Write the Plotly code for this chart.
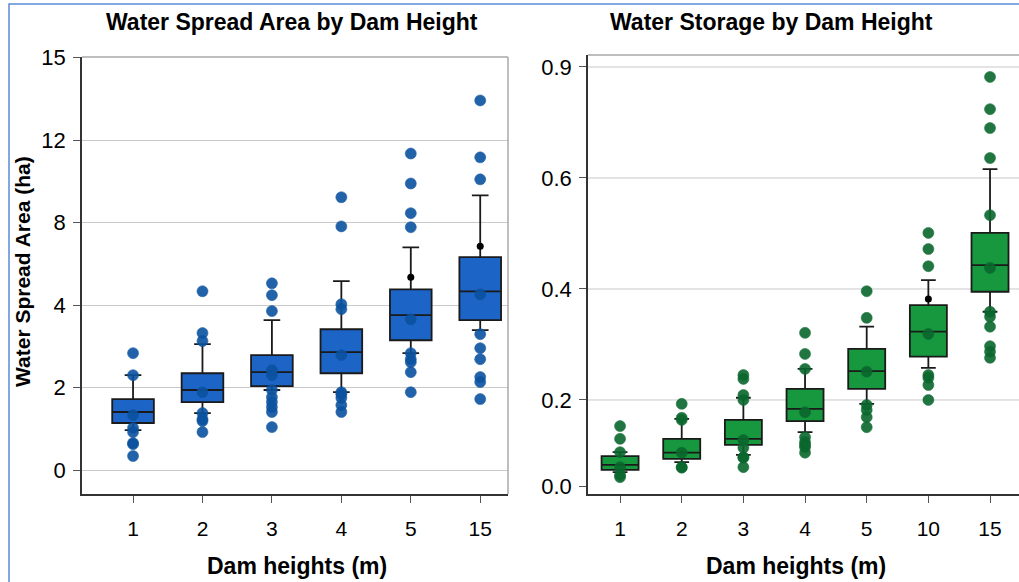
import plotly.graph_objects as go

# ---------------- Water spread area (left panel) ----------------
# Values are on the panel's positional axis (ticks every 3 units, labelled 0,2,4,8,12,15)
area_cats = ["1", "2", "3", "4", "5", "15"]
area_q1 = [1.71, 2.47, 3.05, 3.52, 4.72, 5.45]
area_median = [2.11, 2.91, 3.56, 4.29, 5.63, 6.50]
area_q3 = [2.58, 3.52, 4.18, 5.12, 6.57, 7.74]
area_lower = [1.45, 2.07, 2.91, 2.83, 4.25, 5.09]
area_upper = [3.45, 4.58, 5.45, 6.87, 8.10, 9.99]
area_mean = [None, None, None, None, 7.01, 8.14]
area_points = {
    "1": [4.25, 3.45, 2.00, 1.53, 1.38, 0.98, 0.94, 0.51],
    "2": [6.50, 4.98, 4.69, 2.83, 2.07, 1.85, 1.78, 1.38],
    "3": [6.79, 6.36, 5.78, 3.63, 3.45, 2.91, 2.65, 2.47, 2.29, 2.11, 1.56],
    "4": [9.92, 8.86, 6.03, 5.85, 4.18, 2.83, 2.76, 2.62, 2.36, 2.11],
    "5": [11.51, 10.42, 9.34, 8.83, 5.48, 4.25, 4.03, 3.92, 3.56, 2.83],
    "15": [13.44, 11.37, 10.57, 6.39, 4.94, 4.43, 4.03, 3.38, 3.20, 2.58],
}
area_tickvals = [0, 3, 6, 9, 12, 15]
area_ticktext = ["0", "2", "4", "8", "12", "15"]

# ---------------- Water storage (right panel) ----------------
storage_cats = ["1", "2", "3", "4", "5", "10", "15"]
storage_q1 = [0.074, 0.094, 0.119, 0.162, 0.220, 0.278, 0.395]
storage_median = [0.083, 0.105, 0.130, 0.184, 0.252, 0.323, 0.443]
storage_q3 = [0.099, 0.130, 0.164, 0.220, 0.292, 0.371, 0.501]
storage_lower = [0.070, 0.088, 0.101, 0.142, 0.193, 0.258, 0.359]
storage_upper = [0.106, 0.166, 0.204, 0.256, 0.332, 0.416, 0.616]
storage_mean = [None, None, None, None, None, 0.382, None]
storage_points = {
    "1": [0.153, 0.130, 0.106, 0.079, 0.065, 0.061],
    "2": [0.193, 0.168, 0.164, 0.105, 0.079, 0.078],
    "3": [0.245, 0.238, 0.209, 0.200, 0.128, 0.114, 0.097, 0.096, 0.079],
    "4": [0.321, 0.283, 0.256, 0.178, 0.133, 0.124, 0.119, 0.115, 0.105],
    "5": [0.396, 0.348, 0.251, 0.191, 0.182, 0.169, 0.151],
    "10": [0.501, 0.472, 0.441, 0.319, 0.245, 0.240, 0.227, 0.200],
    "15": [0.782, 0.724, 0.690, 0.636, 0.533, 0.438, 0.359, 0.350,
           0.332, 0.297, 0.287, 0.276],
}
storage_tickvals = [0.045, 0.2, 0.4, 0.6, 0.8]
storage_ticktext = ["0.0", "0.2", "0.4", "0.6", "0.9"]

W, H = 1019, 582
FONT = "Liberation Sans, Arial, sans-serif"
BLUE_FILL, BLUE_PT = "#1c65c6", "#0b52a0"
GREEN_FILL, GREEN_PT = "#17983f", "#0a672d"
EDGE = "#1a1a1a"
GRID = "#c9c9c9"


def px_x(p):
    return p / W


def px_y(p):
    return 1 - p / H


fig = go.Figure()


def add_panel(cats, q1, med, q3, lo, hi, mean, points, fill, ptcol, xa, ya):
    fig.add_trace(go.Box(
        x=cats, q1=q1, median=med, q3=q3, lowerfence=lo, upperfence=hi,
        fillcolor=fill, line=dict(color=EDGE, width=1.8), width=0.6,
        whiskerwidth=0.4, boxpoints=False, showlegend=False,
        xaxis=xa, yaxis=ya,
    ))
    xs, ys = [], []
    for c in cats:
        xs += [c] * len(points[c])
        ys += points[c]
    fig.add_trace(go.Scatter(
        x=xs, y=ys, mode="markers", showlegend=False, xaxis=xa, yaxis=ya,
        marker=dict(color=ptcol, size=11, opacity=0.9,
                    line=dict(width=0.6, color=ptcol)),
    ))
    mx = [c for c, m in zip(cats, mean) if m is not None]
    my = [m for m in mean if m is not None]
    fig.add_trace(go.Scatter(
        x=mx, y=my, mode="markers", showlegend=False, xaxis=xa, yaxis=ya,
        marker=dict(color="black", size=7),
    ))


add_panel(area_cats, area_q1, area_median, area_q3, area_lower, area_upper,
          area_mean, area_points, BLUE_FILL, BLUE_PT, "x", "y")
add_panel(storage_cats, storage_q1, storage_median, storage_q3, storage_lower,
          storage_upper, storage_mean, storage_points, GREEN_FILL, GREEN_PT,
          "x2", "y2")

common_x = dict(
    type="category", showline=True, linecolor="#333333", linewidth=1.5,
    ticks="outside", ticklen=7, tickcolor="#555555", tickwidth=1,
    showgrid=False, zeroline=False, ticklabelstandoff=8, automargin=False,
    tickfont=dict(family=FONT, size=21, color="black"),
)
common_y = dict(
    showline=True, linecolor="#333333", linewidth=1.5,
    ticks="outside", ticklen=7, tickcolor="#555555", tickwidth=1,
    zeroline=False, ticklabelstandoff=3, automargin=False,
    tickfont=dict(family=FONT, size=22, color="black"),
)

fig.update_layout(
    width=W, height=H,
    margin=dict(l=0, r=0, t=0, b=0),
    paper_bgcolor="white", plot_bgcolor="white",
    xaxis=dict(common_x, domain=[px_x(82), px_x(508)], anchor="y",
               categoryorder="array", categoryarray=area_cats,
               range=[-0.735, 5.40]),
    yaxis=dict(common_y, domain=[px_y(494), px_y(57)], anchor="x",
               range=[-0.872, 15.02], tickvals=area_tickvals,
               ticktext=area_ticktext, showgrid=True, gridcolor=GRID,
               gridwidth=1),
    xaxis2=dict(common_x, domain=[px_x(588), 1.0], anchor="y2",
                categoryorder="array", categoryarray=storage_cats,
                range=[-0.52, 6.47]),
    yaxis2=dict(common_y, domain=[px_y(494), px_y(55)], anchor="x2",
                range=[0.0306, 0.8216], tickvals=storage_tickvals,
                ticktext=storage_ticktext, showgrid=False),
)

shapes = []
# frame borders (top/right) of the left panel, top of the right panel
shapes.append(dict(type="line", xref="x domain", yref="y domain",
                   x0=0, x1=1, y0=1, y1=1, line=dict(color="#a8a8a8", width=1.5)))
shapes.append(dict(type="line", xref="x domain", yref="y domain",
                   x0=1, x1=1, y0=0, y1=1, line=dict(color="#a8a8a8", width=1.5)))
shapes.append(dict(type="line", xref="x2 domain", yref="y2 domain",
                   x0=0, x1=1, y0=1, y1=1, line=dict(color="#a8a8a8", width=1.5)))
# horizontal gridlines of the right panel (no line at the base)
for v in storage_tickvals[1:]:
    shapes.append(dict(type="line", xref="x2 domain", yref="y2", layer="below",
                       x0=0, x1=1, y0=v, y1=v, line=dict(color=GRID, width=1)))
# outer figure border
shapes.append(dict(type="rect", xref="paper", yref="paper",
                   x0=px_x(9), x1=1.05, y0=-0.05, y1=px_y(4),
                   line=dict(color="#5b8ad6", width=1.5)))
fig.update_layout(shapes=shapes)

title_font = dict(family=FONT, size=23, color="black")
annotations = [
    dict(text="<b>Water Spread Area by Dam Height</b>", x=px_x(292), y=px_y(22)),
    dict(text="<b>Water Storage by Dam Height</b>", x=px_x(771), y=px_y(22)),
    dict(text="<b>Dam heights (m)</b>", x=px_x(297), y=px_y(566)),
    dict(text="<b>Dam heights (m)</b>", x=px_x(796), y=px_y(566)),
    dict(text="<b>Water Spread Area (ha)</b>", x=px_x(22), y=px_y(272),
         textangle=-90),
]
for a in annotations:
    a.update(xref="paper", yref="paper", showarrow=False, font=title_font,
             xanchor="center", yanchor="middle")
annotations[-1]["font"] = dict(family=FONT, size=21, color="black")
fig.update_layout(annotations=annotations)

fig.write_html("out.html")
